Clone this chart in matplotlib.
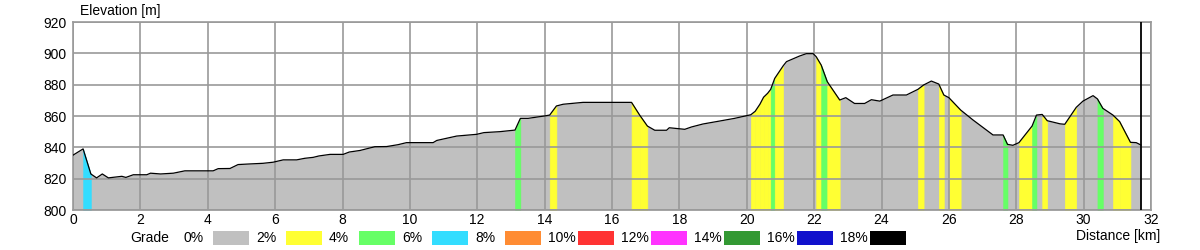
import numpy as np
import matplotlib.pyplot as plt
from matplotlib.patches import Rectangle

plt.rcParams['font.family'] = ['Liberation Sans', 'DejaVu Sans']
plt.rcParams['font.size'] = 10

# profile: distance [km], elevation [m]
dist = [0.00, 0.30, 0.53, 0.70, 0.87, 1.05, 1.25, 1.45, 1.57, 1.79,
        2.19, 2.30, 2.60, 2.98, 3.32, 3.95, 4.16, 4.31, 4.66, 4.90,
        5.25, 5.64, 5.94, 6.24, 6.64, 6.88, 7.13, 7.30, 7.63, 8.02,
        8.20, 8.52, 8.96, 9.31, 9.65, 9.90, 10.69, 10.80, 11.39, 11.98,
        12.20, 12.67, 13.12, 13.28, 13.51, 13.99, 14.15, 14.35, 14.55, 15.14,
        16.58, 16.82, 17.05, 17.27, 17.62, 17.70, 18.16, 18.36, 18.70, 19.20,
        19.64, 20.12, 20.25, 20.39, 20.50, 20.62, 20.71, 20.83, 21.08, 21.18,
        21.57, 21.77, 21.97, 22.06, 22.21, 22.39, 22.76, 22.94, 23.20, 23.50,
        23.70, 23.95, 24.34, 24.74, 25.08, 25.25, 25.48, 25.70, 25.85, 26.00,
        26.35, 26.72, 27.31, 27.61, 27.74, 27.90, 28.08, 28.47, 28.60, 28.77,
        28.92, 29.30, 29.44, 29.78, 29.98, 30.28, 30.41, 30.57, 30.87, 31.07,
        31.39, 31.56, 31.70]
elev = [835.0, 839.0, 823.0, 820.5, 823.0, 820.5, 821.0, 821.5, 820.8, 822.5,
        822.5, 823.5, 823.0, 823.5, 825.0, 825.0, 825.0, 826.4, 826.5, 829.0,
        829.4, 829.8, 830.5, 832.0, 832.0, 833.0, 833.6, 834.5, 835.5, 835.5,
        837.0, 838.0, 840.4, 840.5, 841.7, 843.0, 843.0, 844.4, 847.2, 848.3,
        849.4, 850.0, 851.0, 858.5, 858.5, 860.0, 860.6, 866.4, 867.5, 868.7,
        868.7, 860.6, 853.6, 850.9, 850.9, 852.5, 851.5, 853.0, 854.9, 856.8,
        858.5, 860.8, 863.0, 867.5, 872.0, 874.5, 877.0, 884.0, 892.0, 894.7,
        898.3, 899.8, 899.8, 897.9, 892.5, 881.9, 870.2, 871.7, 868.0, 868.0,
        870.4, 869.5, 873.4, 873.4, 877.0, 879.8, 882.3, 880.4, 873.4, 871.7,
        863.8, 857.4, 847.9, 847.9, 841.9, 841.3, 843.0, 853.6, 860.6, 861.0,
        857.0, 855.0, 854.7, 865.5, 869.5, 873.0, 870.9, 864.9, 860.6, 856.4,
        843.2, 843.0, 841.5]
# grade class of each segment between two profile points (0 = 0-2%, 1 = 2-4%, ...)
seg_class = [0, 3, 0, 0, 0, 0, 0, 0, 0, 0,
             0, 0, 0, 0, 0, 0, 0, 0, 0, 0,
             0, 0, 0, 0, 0, 0, 0, 0, 0, 0,
             0, 0, 0, 0, 0, 0, 0, 0, 0, 0,
             0, 0, 2, 0, 0, 0, 1, 0, 0, 0,
             1, 1, 0, 0, 0, 0, 0, 0, 0, 0,
             0, 1, 1, 1, 1, 1, 2, 1, 0, 0,
             0, 0, 0, 1, 2, 1, 0, 0, 0, 0,
             0, 0, 0, 0, 1, 0, 0, 1, 0, 1,
             0, 0, 0, 2, 0, 0, 1, 2, 0, 1,
             0, 0, 1, 0, 0, 0, 2, 0, 1, 1,
             0, 0]

grade_labels = ['0%', '2%', '4%', '6%', '8%', '10%', '12%', '14%', '16%', '18%']
grade_colors = ['#c0c0c0', '#ffff33', '#66ff66', '#33ddff', '#ff8c33',
                '#ff3333', '#ff33ff', '#339933', '#1111cc', '#000000']

fig = plt.figure(figsize=(12, 2.5), dpi=100)
ax = fig.add_axes([73 / 1200, 40 / 250, 1078 / 1200, 188 / 250])

d = np.array(dist)
e = np.array(elev)
ax.fill_between(d, e, 800, color=grade_colors[0], lw=0, zorder=1)
for i, c in enumerate(seg_class):
    if c == 0:
        continue
    ax.fill_between(d[i:i + 2], e[i:i + 2], 800, color=grade_colors[c],
                    lw=0.4, edgecolor=grade_colors[c], zorder=2)
ax.plot(d, e, color='black', lw=0.9, zorder=4)
ax.axvline(d[-1], color='black', lw=1.3, zorder=5)

ax.set_xlim(0, 32)
ax.set_ylim(800, 920)
ax.set_xticks(np.arange(0, 33, 2))
ax.set_yticks(np.arange(800, 921, 20))
ax.grid(True, color='#999999', lw=1.2, zorder=3)
ax.set_axisbelow(False)
ax.tick_params(length=0, labelsize=10)
ax.tick_params(axis='x', pad=2.5)
ax.tick_params(axis='y', pad=4.5)
for s in ax.spines.values():
    s.set_color('#999999')
    s.set_linewidth(1.2)

fig.text(80 / 1200, 1 - 11.5 / 250, 'Elevation [m]', ha='left', va='center')
fig.text(1160 / 1200, 1 - 236 / 250, 'Distance [km]', ha='right', va='center')

# grade legend
ly = 1 - 238 / 250
fig.text(130 / 1200, ly, 'Grade', ha='left', va='center')
for k, (lab, col) in enumerate(zip(grade_labels, grade_colors)):
    fig.text((183 + 73 * k) / 1200, ly, lab, ha='left', va='center')
    fig.add_artist(Rectangle(((213 + 73 * k) / 1200, 1 - 245 / 250), 36 / 1200, 14 / 250,
                             transform=fig.transFigure, facecolor=col, edgecolor='none'))

fig.savefig('out.png', dpi=100)
